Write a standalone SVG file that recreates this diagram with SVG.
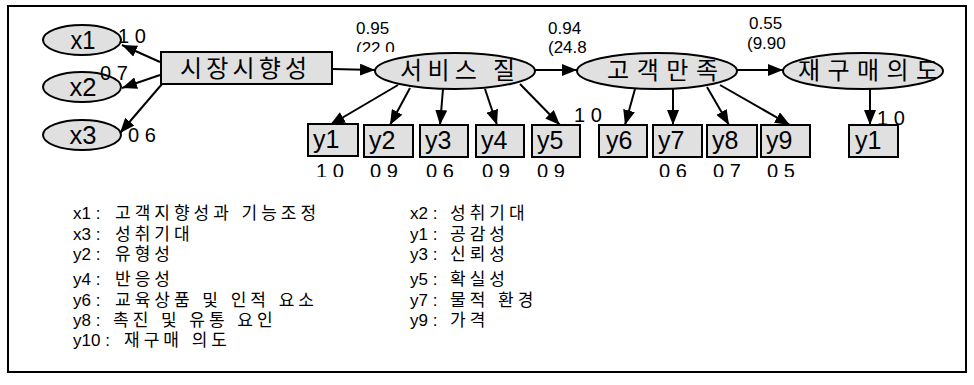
<svg xmlns="http://www.w3.org/2000/svg" width="974" height="385" viewBox="0 0 974 385">
<style>
.nd{fill:#e0e0e0;stroke:#000;stroke-width:2}
.kt{font-family:"Noto Sans CJK KR","Liberation Sans",sans-serif;font-size:24px;fill:#000}
.lt{font-family:"Liberation Sans",Arial,sans-serif;fill:#000}
.el{font-family:"Liberation Sans",Arial,sans-serif;font-size:20px;fill:#000}
.cf{font-family:"Liberation Sans",Arial,sans-serif;font-size:17px;fill:#000}
.lp{font-family:"Liberation Sans",Arial,sans-serif;font-size:17px;fill:#000}
.lk{font-family:"Liberation Sans","Noto Sans CJK KR",sans-serif;font-size:17px;letter-spacing:4px;fill:#000}
.cn{stroke:#000;stroke-width:2;fill:none;marker-end:url(#ah)}
</style>
<defs>
<marker id="ah" markerUnits="userSpaceOnUse" markerWidth="15" markerHeight="12" refX="15" refY="6" orient="auto">
<path d="M0,0 L15,6 L0,12 z" fill="#000"/>
</marker>
<clipPath id="cTop"><rect x="0" y="0" width="974" height="52"/></clipPath>
<clipPath id="cBot"><rect x="0" y="0" width="974" height="177"/></clipPath>
</defs>
<rect x="8" y="6" width="958" height="366" fill="#fff" stroke="#000" stroke-width="2"/>

<g id="connectors">
<line class="cn" x1="160" y1="62" x2="122" y2="45"/>
<line class="cn" x1="160" y1="75" x2="122" y2="88"/>
<line class="cn" x1="162" y1="84" x2="120" y2="133"/>
<line class="cn" x1="332" y1="69" x2="375" y2="70"/>
<line class="cn" x1="535" y1="70" x2="577" y2="70"/>
<line class="cn" x1="737" y1="70" x2="783" y2="70"/>
<line class="cn" x1="398" y1="85" x2="330" y2="125"/>
<line class="cn" x1="410" y1="88" x2="390" y2="125"/>
<line class="cn" x1="443" y1="89" x2="440" y2="125"/>
<line class="cn" x1="485" y1="89" x2="497" y2="125"/>
<line class="cn" x1="520" y1="84" x2="560" y2="125"/>
<line class="cn" x1="635" y1="89" x2="625" y2="125"/>
<line class="cn" x1="673" y1="89" x2="673" y2="125"/>
<line class="cn" x1="707" y1="87" x2="729" y2="125"/>
<line class="cn" x1="720" y1="85" x2="790" y2="125"/>
<line class="cn" x1="870" y1="89" x2="870" y2="125"/>
</g>

<g id="x1"><ellipse class="nd" cx="82" cy="40" rx="39" ry="15"/><text class="lt" x="83" y="49" font-size="26" text-anchor="middle" textLength="25" lengthAdjust="spacingAndGlyphs">x1</text></g>
<g id="x2"><ellipse class="nd" cx="82" cy="87" rx="39" ry="15"/><text class="lt" x="83" y="96" font-size="26" text-anchor="middle" textLength="27" lengthAdjust="spacingAndGlyphs">x2</text></g>
<g id="x3"><ellipse class="nd" cx="82" cy="135" rx="39" ry="15"/><text class="lt" x="83" y="144" font-size="26" text-anchor="middle" textLength="27" lengthAdjust="spacingAndGlyphs">x3</text></g>

<g id="market"><rect class="nd" x="161" y="52" width="171" height="32"/><text class="kt" x="180" y="77" textLength="127">시장시향성</text></g>
<g id="service"><ellipse class="nd" cx="455" cy="71" rx="80" ry="18"/><text class="kt" x="400" y="79" textLength="115">서비스 질</text></g>
<g id="satisfaction"><ellipse class="nd" cx="657" cy="71" rx="80" ry="18"/><text class="kt" x="607" y="79" textLength="111">고객만족</text></g>
<g id="repurchase"><ellipse class="nd" cx="863" cy="71" rx="80" ry="18"/><text class="kt" x="798" y="79" textLength="140">재구매의도</text></g>

<g id="y1n"><rect class="nd" x="308" y="124" width="50" height="32"/><text class="lt" x="313" y="148" font-size="25">y1</text></g>
<g id="y2n"><rect class="nd" x="364" y="125" width="49" height="32"/><text class="lt" x="369" y="149" font-size="25">y2</text></g>
<g id="y3n"><rect class="nd" x="420" y="125" width="48" height="32"/><text class="lt" x="425" y="149" font-size="25">y3</text></g>
<g id="y4n"><rect class="nd" x="476" y="125" width="48" height="32"/><text class="lt" x="481" y="149" font-size="25">y4</text></g>
<g id="y5n"><rect class="nd" x="532" y="125" width="48" height="32"/><text class="lt" x="537" y="149" font-size="25">y5</text></g>
<g id="y6n"><rect class="nd" x="599" y="125" width="48" height="32"/><text class="lt" x="606" y="149" font-size="25">y6</text></g>
<g id="y7n"><rect class="nd" x="653" y="125" width="49" height="32"/><text class="lt" x="658" y="149" font-size="25">y7</text></g>
<g id="y8n"><rect class="nd" x="707" y="125" width="50" height="32"/><text class="lt" x="712" y="149" font-size="25">y8</text></g>
<g id="y9n"><rect class="nd" x="761" y="125" width="49" height="32"/><text class="lt" x="766" y="149" font-size="25">y9</text></g>
<g id="y10n"><rect class="nd" x="849" y="125" width="49" height="32"/><text class="lt" x="855" y="149" font-size="25">y1</text></g>

<g id="edge-labels">
<text class="el" x="118" y="43">1 0</text>
<text class="el" x="100" y="80">0 7</text>
<text class="el" x="128" y="142">0 6</text>
<text class="cf" x="356" y="34">0.95</text>
<text class="cf" x="356" y="54" clip-path="url(#cTop)">(22.0</text>
<text class="cf" x="548" y="34">0.94</text>
<text class="cf" x="548" y="53">(24.8</text>
<text class="cf" x="749" y="29" font-size="15">0.55</text>
<text class="cf" x="747" y="49" font-size="15">(9.90</text>
<text class="el" x="574" y="122">1 0</text>
<text class="el" x="877" y="125">1 0</text>
<g clip-path="url(#cBot)">
<text class="el" x="316" y="178">1 0</text>
<text class="el" x="370" y="178">0 9</text>
<text class="el" x="426" y="178">0 6</text>
<text class="el" x="482" y="178">0 9</text>
<text class="el" x="537" y="178">0 9</text>
<text class="el" x="659" y="178">0 6</text>
<text class="el" x="713" y="178">0 7</text>
<text class="el" x="767" y="178">0 5</text>
</g>
</g>

<g id="legend">
<text class="lp" x="73" y="219">x1 :</text><text class="lk" x="115" y="219">고객지향성과 기능조정</text>
<text class="lp" x="73" y="240">x3 :</text><text class="lk" x="115" y="240">성취기대</text>
<text class="lp" x="73" y="260">y2 :</text><text class="lk" x="115" y="260">유형성</text>
<text class="lp" x="73" y="285">y4 :</text><text class="lk" x="115" y="285">반응성</text>
<text class="lp" x="73" y="306">y6 :</text><text class="lk" x="115" y="306">교육상품 및 인적 요소</text>
<text class="lp" x="73" y="326">y8 :</text><text class="lk" x="113" y="326">촉진 및 유통 요인</text>
<text class="lp" x="73" y="346">y10 :</text><text class="lk" x="124" y="346">재구매 의도</text>
<text class="lp" x="410" y="219">x2 :</text><text class="lk" x="450" y="219">성취기대</text>
<text class="lp" x="410" y="240">y1 :</text><text class="lk" x="450" y="240">공감성</text>
<text class="lp" x="410" y="260">y3 :</text><text class="lk" x="450" y="260">신뢰성</text>
<text class="lp" x="410" y="285">y5 :</text><text class="lk" x="450" y="285">확실성</text>
<text class="lp" x="410" y="306">y7 :</text><text class="lk" x="450" y="306">물적 환경</text>
<text class="lp" x="410" y="326">y9 :</text><text class="lk" x="450" y="326">가격</text>
</g>
</svg>
